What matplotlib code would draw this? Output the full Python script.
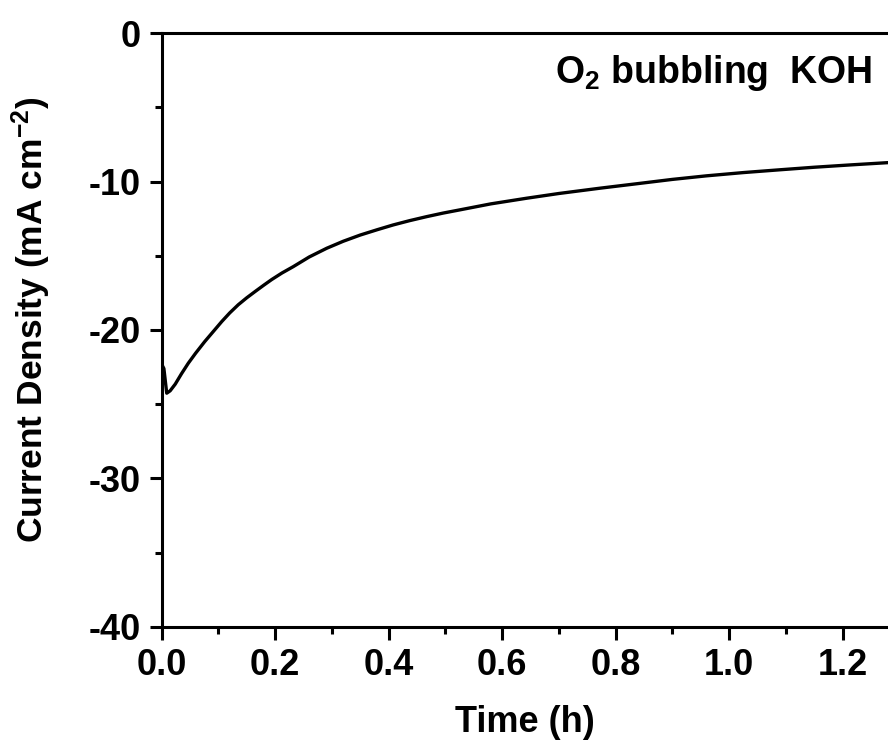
import matplotlib
matplotlib.use('Agg')
import matplotlib.pyplot as plt
from matplotlib.ticker import MultipleLocator

plt.rcParams['font.family'] = ['Liberation Sans', 'DejaVu Sans']
plt.rcParams['font.weight'] = 'bold'
plt.rcParams['axes.unicode_minus'] = False
plt.rcParams['mathtext.fontset'] = 'custom'
plt.rcParams['mathtext.rm'] = 'Liberation Sans:bold'
plt.rcParams['mathtext.it'] = 'Liberation Sans:bold'
plt.rcParams['mathtext.bf'] = 'Liberation Sans:bold'

# values
time_h = [0.0, 0.004, 0.009, 0.015, 0.024, 0.035, 0.047, 0.06, 0.076, 0.09,
          0.106, 0.12, 0.135, 0.15, 0.165, 0.18, 0.194, 0.212, 0.232, 0.26,
          0.291, 0.32, 0.35, 0.38, 0.408, 0.437, 0.467, 0.496, 0.526, 0.58,
          0.643, 0.70, 0.773, 0.84, 0.90, 0.96, 1.025, 1.09, 1.15, 1.215,
          1.28]
current = [-22.3, -22.6, -24.26, -24.1, -23.65, -22.95, -22.24, -21.56, -20.78, -20.15,
           -19.43, -18.85, -18.3, -17.83, -17.4, -16.98, -16.6, -16.16, -15.73, -15.08,
           -14.49, -14.02, -13.6, -13.24, -12.92, -12.63, -12.36, -12.12, -11.9, -11.5,
           -11.12, -10.8, -10.44, -10.13, -9.85, -9.61, -9.39, -9.2, -9.03, -8.87,
           -8.72]

xticks = [0.0, 0.2, 0.4, 0.6, 0.8, 1.0, 1.2]
yticks = [0, -10, -20, -30, -40]

fig = plt.figure(figsize=(8.88, 7.51), dpi=100)
ax = fig.add_axes([0.182, 0.1655, 0.818, 0.7902])

ax.plot(time_h, current, color='black', lw=2.4, solid_joinstyle='round')

ax.set_xlim(0, 1.28)
ax.set_ylim(-40, 0)
ax.set_xticks(xticks)
ax.set_xticklabels(['%.1f' % t for t in xticks])
ax.set_yticks(yticks)
ax.set_yticklabels(['%d' % v for v in yticks])
ax.xaxis.set_minor_locator(MultipleLocator(0.1))
ax.yaxis.set_minor_locator(MultipleLocator(5))

for s in ['left', 'top', 'bottom']:
    ax.spines[s].set_linewidth(2.2)
ax.spines['right'].set_visible(False)

ax.tick_params(which='major', direction='out', length=9, width=2.2, labelsize=26, pad=6)
ax.tick_params(which='minor', direction='out', length=5, width=2.2)
ax.tick_params(top=False, right=False)

ax.set_xlabel('Time (h)', fontsize=26, fontweight='bold', labelpad=16)
ax.set_ylabel('Current Density (mA cm$^{-2}$)', fontsize=25.5, fontweight='bold')
ax.yaxis.set_label_coords(-0.149, 0.517)

ax.text(0.5416, 0.916, 'O$_2$ bubbling  KOH', transform=ax.transAxes,
        fontsize=27, fontweight='bold', ha='left', va='baseline')

fig.savefig('out.png', dpi=100)
